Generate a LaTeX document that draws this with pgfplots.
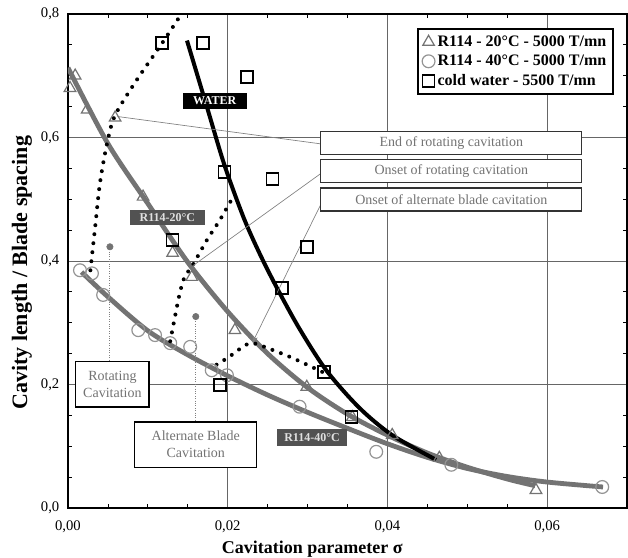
\documentclass[border=0pt]{standalone}
\usepackage{pgfplots}
\pgfplotsset{compat=1.18}
\usepackage{fontspec}
\setmainfont{Liberation Serif}
\usetikzlibrary{arrows.meta}

\definecolor{curvegray}{gray}{0.45}
\definecolor{trigray}{gray}{0.45}
\definecolor{circgray}{gray}{0.58}
\definecolor{notegray}{gray}{0.5}

\tikzset{callout/.style={draw=black!80, line width=0.8pt, fill=white, text=black!55, inner sep=0pt,
    minimum width=195.75pt, minimum height=17.25pt, font=\fontsize{10.5}{12}\selectfont}}

\begin{document}
\begin{tikzpicture}
\begin{axis}[
  width=419.25pt, height=370.5pt, scale only axis,
  xmin=0, xmax=0.07, ymin=0, ymax=0.8,
  xtick={0,0.02,0.04,0.06}, ytick={0,0.2,0.4,0.6,0.8},
  minor x tick num=3, minor y tick num=3,
  grid=major, major grid style={line width=0.6pt, color=black!60},
  axis line style={line width=1.3pt},
  major tick length=0pt, minor tick length=3pt,
  tick style={black, line width=0.6pt},
  scaled x ticks=false, scaled y ticks=false,
  /pgf/number format/assume math mode=true,
  xticklabel style={/pgf/number format/.cd, fixed, fixed zerofill, precision=2, use comma, /tikz/.cd, yshift=-6pt},
  yticklabel style={/pgf/number format/.cd, fixed, fixed zerofill, precision=1, use comma, /tikz/.cd, xshift=-3pt},
  tick label style={font=\fontsize{11}{13}\selectfont},
  xlabel={Cavitation parameter σ},
  ylabel={Cavity length / Blade spacing},
  xlabel style={font=\bfseries\fontsize{13.5}{16}\selectfont, at={(axis description cs:0.437,-0.084)}, anchor=center},
  ylabel style={font=\bfseries\fontsize{16.5}{19}\selectfont, at={(axis description cs:-0.0823,0.476)}, anchor=center},
  legend style={at={(axis cs:0.04375,0.777)}, anchor=north west, draw=black, line width=1.2pt,
    font=\bfseries\fontsize{12}{14}\selectfont, row sep=1pt, inner xsep=3pt, inner ysep=3pt},
  legend cell align=left,
]

% measured points
\addplot[only marks, mark=triangle, mark size=5pt, mark options={draw=trigray, line width=0.9pt, fill=none}]
  coordinates {
  (0.00025,0.680) (0.0009,0.700) (0.0024,0.645) (0.0059,0.632) (0.0094,0.504)
  (0.0131,0.413) (0.0155,0.374) (0.0209,0.288) (0.0299,0.196) (0.0356,0.147)
  (0.0406,0.118) (0.0465,0.081) (0.0586,0.029)};
\addlegendentry{R114 - 20°C - 5000 T/mn}

\addplot[only marks, mark=o, mark size=4.8pt, mark options={draw=circgray, line width=0.9pt, fill=none}]
  coordinates {
  (0.0015,0.385) (0.0030,0.380) (0.0044,0.345) (0.0088,0.288) (0.0109,0.280)
  (0.0128,0.267) (0.0153,0.261) (0.0180,0.223) (0.0199,0.215) (0.0290,0.164)
  (0.0386,0.091) (0.0480,0.070) (0.0669,0.034)};
\addlegendentry{R114 - 40°C - 5000 T/mn}

\addplot[only marks, mark=square, mark size=4.5pt, mark options={draw=black, line width=1.3pt, fill=none}]
  coordinates {
  (0.0118,0.753) (0.0169,0.753) (0.0224,0.698) (0.0196,0.544) (0.0256,0.533)
  (0.0131,0.434) (0.0299,0.423) (0.0268,0.356) (0.0321,0.220) (0.0190,0.199)
  (0.0355,0.147)};
\addlegendentry{cold water - 5500 T/mn}

% fitted trend curves
\addplot[forget plot, smooth, curvegray, line width=3.6pt] coordinates {
  (0,0.713) (0.005,0.590) (0.010,0.493) (0.015,0.398) (0.020,0.318) (0.025,0.250)
  (0.030,0.195) (0.035,0.152) (0.040,0.118) (0.045,0.089) (0.050,0.066)
  (0.055,0.047) (0.0585,0.036)};
\addplot[forget plot, smooth, curvegray, line width=3.6pt] coordinates {
  (0.0017,0.382) (0.005,0.342) (0.010,0.287) (0.015,0.248) (0.020,0.214) (0.025,0.183)
  (0.030,0.155) (0.035,0.129) (0.040,0.104) (0.045,0.082) (0.050,0.064)
  (0.055,0.051) (0.060,0.042) (0.067,0.034)};
\addplot[forget plot, smooth, black, line width=3pt] coordinates {
  (0.0149,0.757) (0.0175,0.645) (0.0196,0.555) (0.022,0.470) (0.024,0.412)
  (0.0261,0.358) (0.029,0.290) (0.0324,0.222) (0.0365,0.162) (0.0406,0.118)
  (0.0461,0.078)};

% regime boundaries
\addplot[forget plot, smooth, black, line width=3pt, line cap=round, dash pattern=on 0pt off 6.8pt] coordinates {
  (0.0028,0.385) (0.0031,0.420) (0.0034,0.455) (0.0040,0.526) (0.0049,0.591)
  (0.0059,0.636) (0.0086,0.693) (0.0118,0.753) (0.0145,0.806)};
\addplot[forget plot, smooth, black, line width=3pt, line cap=round, dash pattern=on 0pt off 6.8pt] coordinates {
  (0.0128,0.270) (0.0134,0.310) (0.0140,0.348) (0.0146,0.374) (0.0156,0.393)
  (0.0174,0.434) (0.0190,0.466) (0.0206,0.502)};
\addplot[forget plot, smooth, black, line width=3pt, line cap=round, dash pattern=on 0pt off 6.8pt] coordinates {
  (0.0186,0.232) (0.0202,0.245) (0.0219,0.261) (0.0231,0.267) (0.0256,0.256)
  (0.0281,0.243) (0.0306,0.228) (0.0319,0.220)};

% regime markers
\addplot[forget plot, notegray, densely dotted, line width=0.8pt] coordinates {(0.00525,0.423) (0.00525,0.236)};
\addplot[forget plot, notegray, densely dotted, line width=0.8pt] coordinates {(0.016,0.310) (0.016,0.139)};
\addplot[forget plot, only marks, mark=*, mark size=2.4pt, color=black!55] coordinates {(0.00525,0.423) (0.016,0.310)};

% curve labels
\node[fill=black, text=white, font=\bfseries\fontsize{9}{10}\selectfont, inner sep=1pt,
  minimum width=48pt, minimum height=12pt] at (axis cs:0.01838,0.659) {WATER};
\node[fill=black!68, text=white!88!black, font=\bfseries\fontsize{9}{10}\selectfont, inner sep=1pt,
  minimum width=56pt, minimum height=11.5pt] at (axis cs:0.01244,0.4705) {R114-20°C};
\node[fill=black!68, text=white!88!black, font=\bfseries\fontsize{9}{10}\selectfont, inner sep=1pt,
  minimum width=53pt, minimum height=13pt] at (axis cs:0.03056,0.1142) {R114-40°C};

% callouts
\draw[black!50, line width=0.5pt] (axis cs:0.03175,0.5895) -- (axis cs:0.0062,0.634);
\draw[black!50, line width=0.5pt] (axis cs:0.03175,0.5425) -- (axis cs:0.0156,0.392);
\draw[black!50, line width=0.5pt, -{Stealth[length=5pt,width=4pt]}] (axis cs:0.03175,0.494) -- (axis cs:0.0231,0.268);
\node[callout] at (axis cs:0.048,0.5910) {End of rotating cavitation};
\node[callout] at (axis cs:0.048,0.5458) {Onset of rotating cavitation};
\node[callout] at (axis cs:0.048,0.4996) {Onset of alternate blade cavitation};
\node[draw=black, line width=1pt, fill=white, text=black!55, align=center, inner sep=0pt,
  minimum width=55pt, minimum height=34pt, font=\fontsize{10.5}{13}\selectfont]
  at (axis cs:0.00556,0.200) {Rotating\\Cavitation};
\node[draw=black, line width=1pt, fill=white, text=black!55, align=center, inner sep=0pt,
  minimum width=91.5pt, minimum height=34pt, font=\fontsize{10.5}{13}\selectfont]
  at (axis cs:0.016,0.1028) {Alternate Blade\\Cavitation};
\end{axis}
\pgfresetboundingbox
\path[use as bounding box] ([xshift=-51pt,yshift=-37.5pt]current axis.south west)
  rectangle ([xshift=0.75pt,yshift=10.5pt]current axis.north east);
\end{tikzpicture}
\end{document}
